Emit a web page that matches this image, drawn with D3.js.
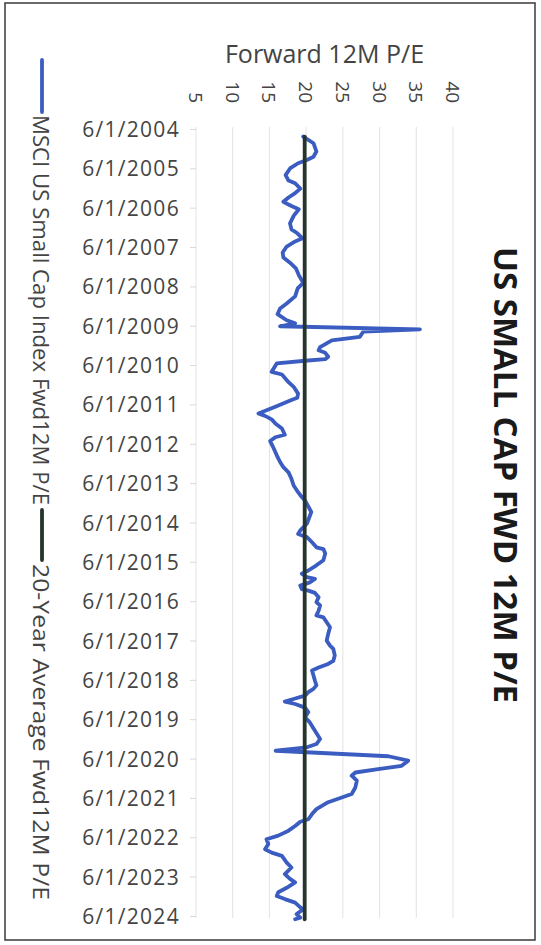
<!DOCTYPE html>
<html>
<head>
<meta charset="utf-8">
<script src="https://cdn.jsdelivr.net/npm/d3@7"></script>
<style>
  html, body { margin: 0; padding: 0; background: #ffffff; }
  svg { display: block; font-family: "Open Sans", "Noto Sans", sans-serif; }
</style>
</head>
<body>
<svg id="chart" width="541" height="945"></svg>
<script>
// Forward 12M P/E of the MSCI US Small Cap Index, with its 20-year average.
const dates = [
  "2004-08-10","2004-10-11","2004-12-27","2005-02-14","2005-03-16","2005-04-15","2005-06-02","2005-08-03",
  "2005-09-23","2005-10-18","2005-12-06","2006-01-18","2006-02-27","2006-04-08","2006-05-17","2006-06-16",
  "2006-08-17","2006-10-25","2006-12-20","2007-01-25","2007-03-13","2007-04-11","2007-05-28","2007-07-22",
  "2007-09-06","2007-10-25","2007-12-16","2008-02-17","2008-04-29","2008-06-20","2008-09-02","2008-11-07",
  "2008-12-23","2009-02-14","2009-04-11","2009-05-10","2009-06-06","2009-07-04","2009-07-25","2009-09-13",
  "2009-10-15","2009-12-16","2010-01-15","2010-02-07","2010-03-16","2010-04-08","2010-04-22","2010-05-17",
  "2010-08-03","2010-08-28","2010-11-07","2010-12-20","2011-02-21","2011-04-01","2011-04-22","2011-06-23",
  "2011-08-24","2011-09-16","2011-10-18","2011-11-28","2012-01-11","2012-03-09","2012-04-01","2012-05-07",
  "2012-07-01","2012-09-16","2012-11-17","2013-01-04","2013-02-21","2013-04-22","2013-06-23","2013-08-24",
  "2013-10-08","2013-11-10","2013-12-23","2014-02-24","2014-06-13","2014-08-14","2014-09-16","2014-10-15",
  "2014-12-02","2015-01-18","2015-02-03","2015-03-16","2015-05-17","2015-07-04","2015-08-21","2015-09-20",
  "2015-10-22","2015-11-07","2015-12-09","2016-01-08","2016-02-10","2016-02-24","2016-03-16","2016-04-25",
  "2016-06-09","2016-07-11","2016-08-28","2016-10-11","2016-10-29","2016-12-13","2017-01-29","2017-04-01",
  "2017-06-02","2017-07-18","2017-08-17","2017-10-18","2017-12-06","2018-01-04","2018-02-07","2018-03-06",
  "2018-04-22","2018-06-09","2018-07-22","2018-08-24","2018-09-23","2018-10-25","2018-11-21","2018-12-20",
  "2019-01-11","2019-02-14","2019-03-27","2019-05-14","2019-07-01","2019-09-16","2019-12-02","2020-01-18",
  "2020-02-17","2020-03-20","2020-05-10","2020-06-20","2020-08-07","2020-09-06","2020-10-08","2020-11-07",
  "2020-12-23","2021-02-24","2021-04-25","2021-05-28","2021-07-11","2021-09-13","2021-10-29","2021-12-16",
  "2022-01-08","2022-02-17","2022-04-01","2022-05-17","2022-06-20","2022-08-03","2022-09-20","2022-10-22",
  "2022-11-21","2023-01-22","2023-03-09","2023-05-10","2023-06-23","2023-07-25","2023-09-13","2023-10-25",
  "2023-11-28","2023-12-27","2024-01-29","2024-03-13","2024-04-01","2024-05-14","2024-06-16","2024-07-01"
];

const smallCapPE = [
  19.6, 21.0, 21.4, 21.0, 20.1, 18.9, 17.8, 17.2,
  17.6, 18.5, 19.2, 18.5, 17.6, 16.9, 18.0, 19.0,
  18.3, 17.8, 18.0, 18.8, 19.5, 18.5, 17.35, 16.8,
  16.9, 17.8, 18.6, 19.0, 19.6, 18.85, 18.5, 17.35,
  16.45, 16.1, 17.35, 18.5, 16.45, 35.5, 27.8, 27.3,
  23.5, 21.9, 21.7, 22.6, 23.0, 22.6, 19.85, 16.0,
  15.3, 16.7, 17.6, 18.3, 18.9, 18.8, 18.0, 15.8,
  13.5, 14.4, 15.3, 15.85, 16.7, 17.1, 15.8, 15.1,
  15.5, 16.0, 16.45, 16.9, 17.6, 18.0, 18.3, 18.9,
  19.4, 19.85, 20.2, 20.7, 20.1, 19.2, 18.9, 20.1,
  20.8, 21.4, 22.35, 22.6, 22.35, 21.4, 20.3, 19.4,
  20.1, 21.2, 20.5, 19.2, 19.4, 20.3, 21.2, 21.7,
  21.4, 21.9, 21.7, 21.4, 22.35, 22.8, 23.25, 23.0,
  22.8, 23.25, 23.7, 23.9, 23.7, 23.0, 21.7, 20.8,
  21.0, 21.2, 21.4, 21.0, 20.3, 19.85, 18.5, 17.1,
  18.5, 19.85, 20.3, 19.85, 20.5, 21.2, 21.9, 21.4,
  20.1, 15.85, 31.2, 33.9, 33.0, 29.8, 26.7, 26.2,
  26.9, 26.7, 26.2, 24.85, 23.0, 21.4, 20.8, 20.3,
  19.2, 18.5, 17.6, 16.2, 14.6, 14.85, 14.4, 15.3,
  16.7, 17.35, 18.0, 17.1, 17.8, 18.5, 17.35, 16.2,
  16.0, 17.1, 18.5, 19.2, 19.6, 18.7, 19.2, 18.5
];

const averagePE = 19.8;

const valueTicks = [5, 10, 15, 20, 25, 30, 35, 40];
const labelYears = [2004, 2005, 2006, 2007, 2008, 2009, 2010, 2011, 2012, 2013, 2014,
                    2015, 2016, 2017, 2018, 2019, 2020, 2021, 2022, 2023, 2024];

const seriesNames = ["MSCI US Small Cap Index Fwd12M P/E", "20-Year Average Fwd12M P/E"];
const seriesColors = ["#3b5cc0", "#26352c"];
const titleText = "US SMALL CAP FWD 12M P/E";
const axisTitle = "Forward 12M P/E";

const parse = d3.timeParse("%Y-%m-%d");
const rows = dates.map((d, i) => ({ date: parse(d), pe: smallCapPE[i], avg: averagePE }));

const svg = d3.select("#chart");

// Outer frame
svg.append("rect")
  .attr("x", 5).attr("y", 3).attr("width", 530).attr("height", 937)
  .attr("fill", "none").attr("stroke", "#3a3a3a").attr("stroke-width", 1.5);

// The chart runs top-to-bottom in time, value increasing to the right.
const plot = { top: 129, bottom: 916, left: 196, right: 453 };
const y = d3.scaleTime()
  .domain([new Date(2004, 5, 1), new Date(2024, 5, 1)])
  .range([plot.top, plot.bottom]);
const x = d3.scaleLinear().domain([5, 40]).range([plot.left, plot.right]);

// Value gridlines
svg.append("g")
  .selectAll("line")
  .data(valueTicks)
  .join("line")
  .attr("x1", d => x(d)).attr("x2", d => x(d))
  .attr("y1", plot.top - 2).attr("y2", plot.bottom + 2)
  .attr("stroke", "#e3e3e3").attr("stroke-width", 1);

// Date axis on the left
const tickDates = labelYears.map(yr => new Date(yr, 5, 1));
const dateAxis = svg.append("g")
  .attr("transform", `translate(${plot.left},0)`)
  .call(d3.axisLeft(y)
    .tickValues(tickDates)
    .tickFormat(d3.timeFormat("%-m/%-d/%Y"))
    .tickSize(6)
    .tickPadding(10));
dateAxis.select(".domain").remove();
dateAxis.selectAll(".tick line").attr("stroke", "#d9d9d9");
dateAxis.selectAll(".tick text")
  .attr("fill", "#444")
  .style("font-family", "'Open Sans', sans-serif")
  .style("font-size", "21px")
  .style("letter-spacing", "1.3px")
  .attr("dy", "0.36em");

// Value tick labels, turned to read downward
svg.append("g")
  .selectAll("text")
  .data(valueTicks)
  .join("text")
  .attr("transform", d => `translate(${x(d)},103) rotate(90)`)
  .attr("text-anchor", "end")
  .attr("dominant-baseline", "central")
  .attr("fill", "#444")
  .style("font-size", "19px")
  .text(d => d);

// Value axis title
svg.append("text")
  .attr("x", (plot.left + plot.right) / 2).attr("y", 63)
  .attr("text-anchor", "middle")
  .attr("fill", "#444")
  .style("font-size", "25px")
  .text(axisTitle);

// Series
const peLine = d3.line().x(d => x(d.pe)).y(d => y(d.date));
const avgLine = d3.line().x(d => x(d.avg)).y(d => y(d.date));

svg.append("path")
  .datum(rows)
  .attr("d", peLine)
  .attr("fill", "none")
  .attr("stroke", seriesColors[0])
  .attr("stroke-width", 3.8)
  .attr("stroke-linejoin", "round")
  .attr("stroke-linecap", "round");

svg.append("path")
  .datum(rows)
  .attr("d", avgLine)
  .attr("fill", "none")
  .attr("stroke", seriesColors[1])
  .attr("stroke-width", 3.8)
  .attr("stroke-linecap", "round");

// Chart title on the right, reading downward
svg.append("text")
  .attr("transform", "translate(506,475) rotate(90)")
  .attr("text-anchor", "middle")
  .attr("dominant-baseline", "central")
  .attr("fill", "#1a1a1a")
  .style("font-size", "33px")
  .style("font-weight", "700")
  .text(titleText);

// Legend on the left, reading downward
const legendX = 42;
const legendItems = [
  { name: seriesNames[0], color: seriesColors[0], y0: 60, y1: 112, textY: 115, len: 390 },
  { name: seriesNames[1], color: seriesColors[1], y0: 510, y1: 560, textY: 564, len: 336 }
];
const lg = svg.append("g");
lg.selectAll("line")
  .data(legendItems)
  .join("line")
  .attr("x1", legendX).attr("x2", legendX)
  .attr("y1", d => d.y0).attr("y2", d => d.y1)
  .attr("stroke", d => d.color)
  .attr("stroke-width", 3.8)
  .attr("stroke-linecap", "round");
lg.selectAll("text")
  .data(legendItems)
  .join("text")
  .attr("transform", d => `translate(${legendX},${d.textY}) rotate(90)`)
  .attr("text-anchor", "start")
  .attr("dominant-baseline", "central")
  .attr("textLength", d => d.len)
  .attr("lengthAdjust", "spacingAndGlyphs")
  .attr("fill", "#444")
  .style("font-size", "22px")
  .text(d => d.name);
</script>
</body>
</html>
